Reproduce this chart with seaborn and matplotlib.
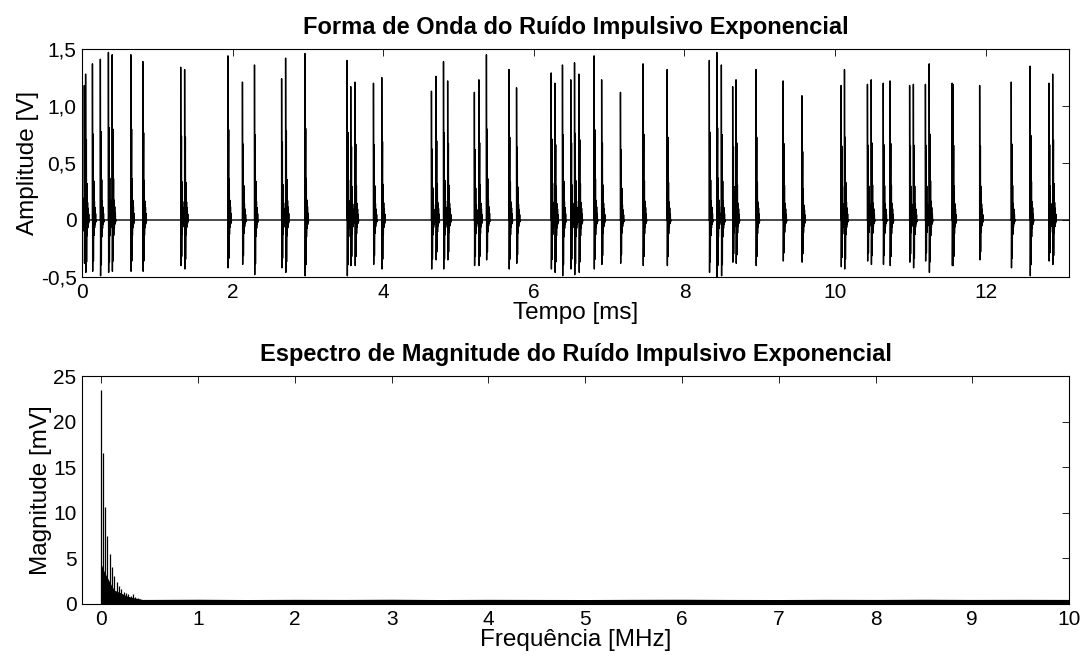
import numpy as np
import pandas as pd
import matplotlib
matplotlib.use("Agg")
import matplotlib.pyplot as plt
from matplotlib.ticker import FixedLocator, FixedFormatter
import seaborn as sns

# ---------------------------------------------------------------- data
# impulse arrival times [ms], positive peaks [V] and negative troughs [V]
pulse_time = [0.000, 0.030, 0.047, 0.138, 0.243, 0.350, 0.400, 0.648, 0.808,
              1.310, 1.362, 1.937, 2.130, 2.290, 2.650, 2.703, 2.960, 3.520,
              3.568, 3.625, 3.870, 3.980, 4.640, 4.700, 4.800, 4.855, 5.210,
              5.270, 5.370, 5.670, 5.770, 6.230, 6.280, 6.380, 6.490, 6.540,
              6.600, 6.800, 6.900, 7.150, 7.450, 7.770, 8.330, 8.430, 8.490,
              8.640, 8.685, 8.950, 9.310, 9.560, 10.080, 10.125, 10.430,
              10.480, 10.640, 10.730, 10.990, 11.040, 11.200, 11.250, 11.555,
              11.565, 11.920, 12.340, 12.590, 12.840, 12.890]
pulse_peak = [0.35, 1.18, 1.28, 1.37, 1.41, 1.47, 1.45, 1.45, 1.39,
              1.34, 1.32, 1.44, 1.21, 1.36, 1.24, 1.42, 1.46, 1.40,
              1.17, 1.21, 1.20, 1.25, 1.13, 1.26, 1.39, 1.22, 1.12,
              1.23, 1.45, 1.32, 1.16, 1.29, 1.20, 1.36, 1.23, 1.38,
              1.28, 1.44, 1.23, 1.12, 1.37, 1.32, 1.40, 1.47, 1.36,
              1.17, 1.23, 1.32, 1.22, 1.09, 1.18, 1.32, 1.19,
              1.23, 1.20, 1.22, 1.18, 1.19, 1.19, 1.37, 1.20,
              1.19, 1.18, 1.21, 1.35, 1.20, 1.28]
pulse_trough = [-0.12, -0.38, -0.46, -0.45, -0.49, -0.46, -0.45, -0.45, -0.45,
                -0.40, -0.43, -0.42, -0.39, -0.48, -0.42, -0.46, -0.49, -0.49,
                -0.40, -0.40, -0.39, -0.43, -0.43, -0.35, -0.43, -0.35, -0.40,
                -0.40, -0.35, -0.43, -0.38, -0.43, -0.46, -0.49, -0.43, -0.48,
                -0.46, -0.43, -0.39, -0.38, -0.40, -0.40, -0.46, -0.50, -0.49,
                -0.37, -0.38, -0.40, -0.36, -0.37, -0.41, -0.43, -0.36,
                -0.39, -0.39, -0.40, -0.37, -0.42, -0.36, -0.46, -0.40,
                -0.40, -0.35, -0.42, -0.49, -0.36, -0.39]

# ringing of one burst: time offsets [ms] and relative swing
# (even entries scale the peak, odd entries scale the trough)
burst_offset = [0.000, 0.003, 0.010, 0.013, 0.018, 0.021, 0.026, 0.029,
                0.034, 0.037, 0.042, 0.045]
burst_weight = [1.00, 1.00, 0.55, 0.80, 0.25, 0.30, 0.12, 0.15,
                0.08, 0.08, 0.04, 0.04]
record_length = 13.1072  # ms

# spectral lines near DC [MHz] and their magnitudes [mV]
line_freq = [0.000, 0.018, 0.042, 0.062, 0.086, 0.110, 0.135, 0.159, 0.183,
             0.207, 0.231, 0.255, 0.279, 0.303, 0.327, 0.352, 0.376, 0.400]
line_mag = [23.5, 16.6, 10.6, 7.45, 5.5, 4.1, 3.1, 2.45, 2.0,
            1.6, 1.35, 1.17, 1.1, 0.9, 1.1, 0.8, 0.62, 0.5]

# upper edge of the dense spectral floor [MHz] -> [mV]
floor_freq = [0.0, 0.031, 0.066, 0.10, 0.135, 0.169, 0.204, 0.238, 0.273,
              0.325, 0.376, 0.42, 0.5, 1.0, 1.5, 2.0, 2.5, 3.0, 3.5, 4.0,
              4.5, 5.0, 5.5, 6.0, 6.5, 7.0, 7.5, 8.0, 8.5, 9.0, 9.5, 10.0]
floor_mag = [4.3, 3.5, 2.8, 2.1, 1.5, 1.35, 1.2, 1.0, 0.85,
             0.7, 0.6, 0.5, 0.5, 0.52, 0.49, 0.51, 0.5, 0.52, 0.49, 0.51,
             0.5, 0.49, 0.51, 0.52, 0.5, 0.49, 0.51, 0.5, 0.52, 0.5, 0.51, 0.5]

# axis ticks and labels
wave_xticks = [0, 2, 4, 6, 8, 10, 12]
wave_yticks = [-0.5, 0.0, 0.5, 1.0, 1.5]
wave_ylabels = ["-0,5", "0", "0,5", "1,0", "1,5"]
spec_xticks = [0, 1, 2, 3, 4, 5, 6, 7, 8, 9, 10]
spec_yticks = [0, 5, 10, 15, 20, 25]

# ---------------------------------------------------------------- waveform table
t_pts, v_pts = [0.0], [0.0]
for t0, pk, tr in zip(pulse_time, pulse_peak, pulse_trough):
    t_pts.append(t0)
    v_pts.append(0.0)
    for k, (dt, w) in enumerate(zip(burst_offset, burst_weight)):
        t_pts.append(t0 + dt)
        v_pts.append(w * (pk if k % 2 == 0 else tr))
    t_pts.append(t0 + burst_offset[-1] + 0.004)
    v_pts.append(0.0)
t_pts.append(record_length)
v_pts.append(0.0)
wave = pd.DataFrame({"Tempo": t_pts, "Amplitude": v_pts})

# ---------------------------------------------------------------- style
sns.set_theme(style="white")
plt.rcParams["font.family"] = ["Liberation Sans", "DejaVu Sans"]
plt.rcParams["axes.edgecolor"] = "black"
plt.rcParams["axes.linewidth"] = 0.8
plt.rcParams["text.color"] = "black"
plt.rcParams["axes.labelcolor"] = "black"
plt.rcParams["axes.titlecolor"] = "black"

fig = plt.figure(figsize=(10.84, 6.57), dpi=100)
ax1 = fig.add_axes([0.0757, 0.5784, 0.9105, 0.3470])
ax2 = fig.add_axes([0.0757, 0.0807, 0.9105, 0.3470])

# ---------------------------------------------------------------- top: waveform
sns.lineplot(data=wave, x="Tempo", y="Amplitude", ax=ax1, sort=False,
             estimator=None, color="black", linewidth=1.0)
ax1.set_xlim(0, record_length)
ax1.set_ylim(-0.5, 1.5)
ax1.xaxis.set_major_locator(FixedLocator(wave_xticks))
ax1.yaxis.set_major_locator(FixedLocator(wave_yticks))
ax1.yaxis.set_major_formatter(FixedFormatter(wave_ylabels))
ax1.set_title("Forma de Onda do Ruído Impulsivo Exponencial",
              fontsize=17, fontweight="bold", pad=11, color="black")
ax1.set_xlabel("Tempo [ms]", fontsize=17.5, labelpad=0)
ax1.set_ylabel("Amplitude [V]", fontsize=17.5, labelpad=1)

# ---------------------------------------------------------------- bottom: spectrum
ax2.fill_between(floor_freq, 0, floor_mag, color="black", linewidth=0)
ax2.vlines(line_freq, 0, line_mag, color="black", linewidth=0.9)
ax2.set_xlim(-0.2, 10)
ax2.set_ylim(0, 25)
ax2.xaxis.set_major_locator(FixedLocator(spec_xticks))
ax2.yaxis.set_major_locator(FixedLocator(spec_yticks))
ax2.set_title("Espectro de Magnitude do Ruído Impulsivo Exponencial",
              fontsize=17, fontweight="bold", pad=11, color="black")
ax2.set_xlabel("Frequência [MHz]", fontsize=17.5, labelpad=0)
ax2.set_ylabel("Magnitude [mV]", fontsize=17.5, labelpad=1)

for ax in (ax1, ax2):
    ax.tick_params(direction="in", length=5, width=0.6, top=True, right=True,
                   labelsize=15, colors="black", pad=4)
    for side in ax.spines.values():
        side.set_visible(True)
        side.set_color("black")
        side.set_linewidth(0.8)
    ax.grid(False)

fig.savefig("out.png", dpi=100, facecolor="white")
